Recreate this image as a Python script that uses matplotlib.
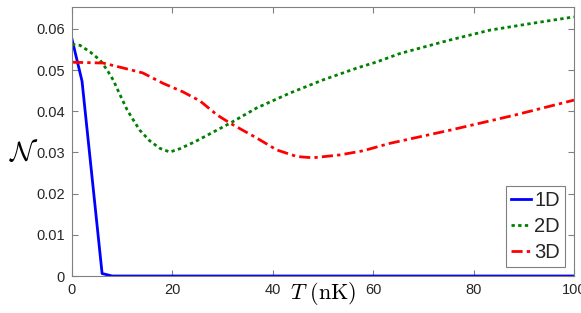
import numpy as np
import matplotlib
matplotlib.use('Agg')
import matplotlib.pyplot as plt

plt.rcParams['font.family'] = ['Liberation Sans', 'DejaVu Sans']
plt.rcParams['mathtext.fontset'] = 'cm'

# values
T_1d = [0, 2, 6, 8, 20, 40, 60, 80, 100]
N_1d = [0.0575, 0.0473, 0.0006, 0.0, 0.0, 0.0, 0.0, 0.0, 0.0]

T_2d = [0, 1.6, 3.6, 5.6, 7.0, 8.2, 9.6, 11.0, 12.2, 13.5, 15.5, 17.5,
        19.5, 21.5, 24.5, 31.5, 36.8, 43.4, 50.0, 56.8, 60.8, 65.3, 75.0,
        83.3, 92.0, 100]
N_2d = [0.0562, 0.0560, 0.0544, 0.0524, 0.0500, 0.0476, 0.0439, 0.0403,
        0.0379, 0.0354, 0.0328, 0.0310, 0.0301, 0.0309, 0.0326, 0.0371,
        0.0408, 0.0444, 0.0476, 0.0505, 0.0520, 0.0540, 0.0572, 0.0597,
        0.0614, 0.0629]

T_3d = [0, 6.2, 10.2, 14.1, 18.1, 22.1, 25.5, 28.9, 31.5, 36.8, 40.8,
        44.8, 48.0, 53.4, 58.0, 63.3, 75.3, 88.0, 100]
N_3d = [0.0519, 0.0517, 0.0505, 0.0493, 0.0468, 0.0447, 0.0425, 0.0391,
        0.0371, 0.0335, 0.0306, 0.0290, 0.0287, 0.0294, 0.0304, 0.0322,
        0.0354, 0.0390, 0.0427]

xticks = [0, 20, 40, 60, 80, 100]
yticks = [0, 0.01, 0.02, 0.03, 0.04, 0.05, 0.06]
ytick_labels = ['0', '0.01', '0.02', '0.03', '0.04', '0.05', '0.06']
labels = ['1D', '2D', '3D']

fig = plt.figure(figsize=(5.81, 3.13), dpi=100)
ax = fig.add_axes([0.1239, 0.1182, 0.864, 0.8594])

ax.plot(T_1d, N_1d, color='#0000ff', lw=2, label=labels[0])
ax.plot(T_2d, N_2d, color='#008000', lw=2, ls=(0, (1.2, 1.2)), label=labels[1])
ax.plot(T_3d, N_3d, color='#ff0000', lw=2, ls=(0, (4, 1.5, 1.2, 1.5)), label=labels[2])

ax.set_xlim(0, 100)
ax.set_ylim(0, 0.0653)
ax.set_xticks(xticks)
ax.set_xticklabels([str(v) for v in xticks])
ax.set_yticks(yticks)
ax.set_yticklabels(ytick_labels)

for s in ax.spines.values():
    s.set_color('#808080')
ax.tick_params(direction='in', top=True, right=True, length=4, width=0.8,
               color='#808080', labelsize=10.5, labelcolor='#262626', pad=5)

ax.set_xlabel(r'$T\ \mathrm{(nK)}$', fontsize=16)
ax.xaxis.set_label_coords(0.5, -0.015)
ax.set_ylabel(r'$\mathcal{N}$', fontsize=20, rotation=0, va='center')
ax.yaxis.set_label_coords(-0.096, 0.457)

leg = ax.legend(loc='lower right', fontsize=14.5, handlelength=1.0, handletextpad=0.15,
                borderpad=0.25, labelspacing=0.35, borderaxespad=0.45, fancybox=False,
                framealpha=1, edgecolor='#808080')
leg.get_frame().set_linewidth(0.8)
for t in leg.get_texts():
    t.set_color('#262626')

plt.savefig('out.png', dpi=100)
